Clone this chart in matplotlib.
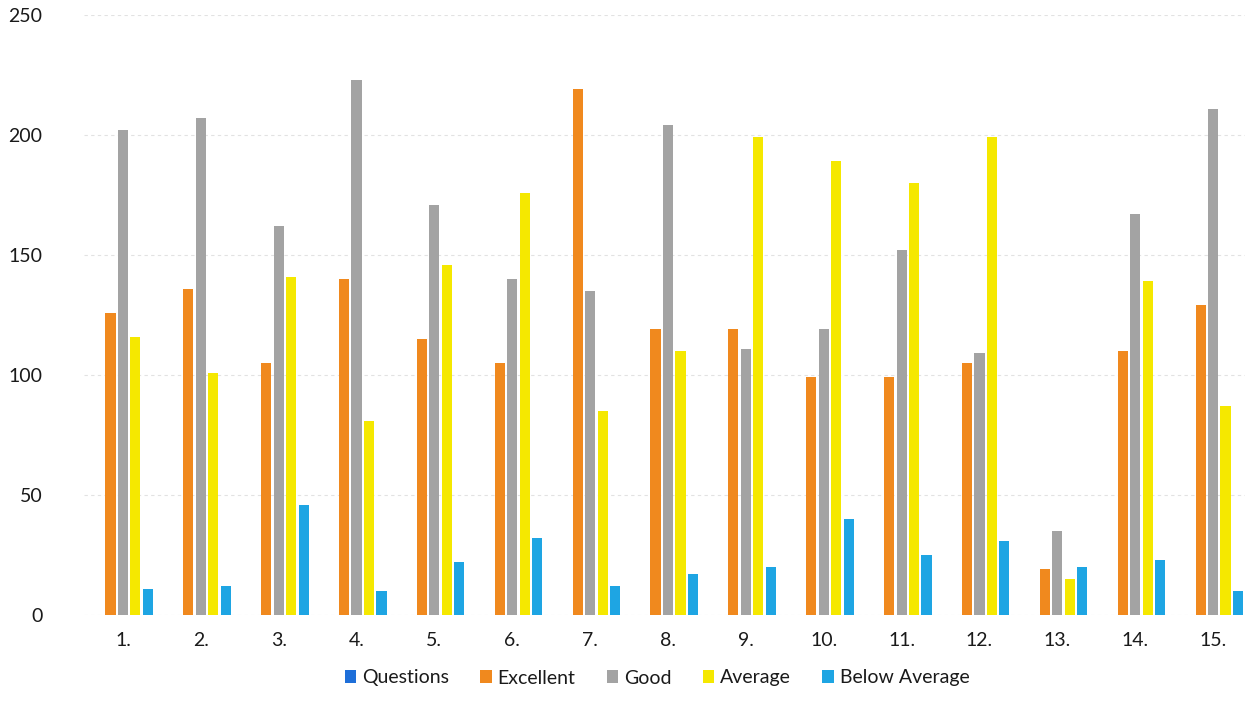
import numpy as np
import matplotlib
matplotlib.use('Agg')
import matplotlib.pyplot as plt

plt.rcParams['font.family'] = ['Lato', 'DejaVu Sans']

# data
labels = ['1.', '2.', '3.', '4.', '5.', '6.', '7.', '8.', '9.', '10.', '11.', '12.', '13.', '14.', '15.']
questions = [0, 0, 0, 0, 0, 0, 0, 0, 0, 0, 0, 0, 0, 0, 0]
excellent = [126, 136, 105, 140, 115, 105, 219, 119, 119, 99, 99, 105, 19, 110, 129]
good = [202, 207, 162, 223, 171, 140, 135, 204, 111, 119, 152, 109, 35, 167, 211]
average = [116, 101, 141, 81, 146, 176, 85, 110, 199, 189, 180, 199, 15, 139, 87]
below_avg = [11, 12, 46, 10, 22, 32, 12, 17, 20, 40, 25, 31, 20, 23, 10]

series = [('Questions', questions, '#1E6FD9'),
          ('Excellent', excellent, '#F0891E'),
          ('Good', good, '#A3A3A3'),
          ('Average', average, '#F5E800'),
          ('Below Average', below_avg, '#1EA5E3')]

W, H = 1245, 713
fig = plt.figure(figsize=(W / 100, H / 100), dpi=100)
left, right = 84 / W, 1.0
bottom, top = 1 - 615 / H, 1 - 15 / H
ax = fig.add_axes([left, bottom, right - left, top - bottom])

x = np.arange(len(labels))
pitch = 0.16
width = 0.13
for i, (name, vals, col) in enumerate(series):
    ax.bar(x + (i - 2) * pitch, vals, width, color=col, label=name, linewidth=0)

ax.set_xlim(-0.5, 14.41)
ax.set_ylim(0, 250)
ax.set_yticks([0, 50, 100, 150, 200, 250])
ax.set_xticks(x)
ax.set_xticklabels(labels, fontsize=14, color='#1a1a1a')
ax.tick_params(axis='y', labelsize=14, colors='#1a1a1a', length=0, pad=30)
ax.tick_params(axis='x', length=0, pad=12)
ax.grid(axis='y', color='#e2e2e2', linestyle=(0, (3, 3)), linewidth=0.8)
ax.set_axisbelow(True)
for s in ax.spines.values():
    s.set_visible(False)

ax.legend(loc='center', bbox_to_anchor=(657 / W, 1 - 678 / H), bbox_transform=fig.transFigure,
          ncol=5, frameon=False, fontsize=14, handlelength=0.6, handleheight=0.6,
          handletextpad=0.3, columnspacing=1.6, labelcolor='#1a1a1a')

fig.savefig('out.png', dpi=100)
